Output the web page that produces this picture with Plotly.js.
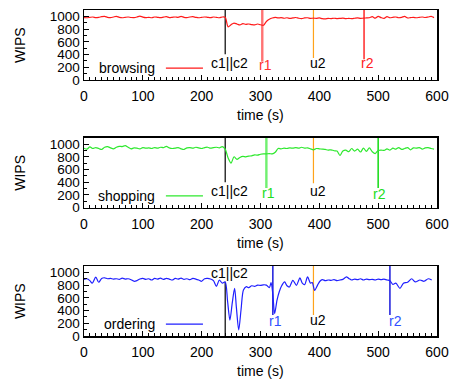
<!DOCTYPE html>
<html>
<head>
<meta charset="utf-8">
<script src="https://cdn.plot.ly/plotly-3.0.1.min.js"></script>
<style>html,body{margin:0;padding:0;background:#fff;}#chart{width:449px;height:381px;}</style>
</head>
<body>
<div id="chart"></div>
<script>
// ---------- data ----------
const t5 = [0,5,10,15,20,25,30,35,40,45,50,55,60,65,70,75,80,85,90,95,
  100,105,110,115,120,125,130,135,140,145,150,155,160,165,170,175,180,185,190,195,
  200,205,210,215,220,225,230,235,240,245,250,255,260,265,270,275,280,285,290,295,
  300,305,310,315,320,325,330,335,340,345,350,355,360,365,370,375,380,385,390,395,
  400,405,410,415,420,425,430,435,440,445,450,455,460,465,470,475,480,485,490,495,
  500,505,510,515,520,525,530,535,540,545,550,555,560,565,570,575,580,585,590,595];

const browsing = [980,978,985,990,980,985,995,1000,985,980,990,1000,985,978,985,990,982,980,990,1005,
  988,980,985,978,990,985,980,988,995,980,985,990,985,1000,985,980,990,995,985,978,
  985,990,985,980,990,985,978,990,985,835,870,895,880,865,885,875,880,870,865,880,
  868,860,920,955,975,985,975,980,970,978,968,975,982,970,965,975,978,968,972,968,
  975,965,962,968,965,970,965,968,972,965,968,965,970,975,968,972,975,978,995,972,
  1000,980,968,995,978,985,990,978,985,1000,975,980,985,978,985,990,982,990,1000,980];

const shopping = [935,920,955,930,945,930,915,950,960,940,925,950,965,960,975,950,925,940,935,925,
  945,935,940,930,945,935,950,945,965,940,930,935,945,925,915,940,945,935,950,940,
  930,945,950,935,945,950,940,960,920,780,700,800,760,790,805,800,810,815,830,825,
  840,845,845,850,845,870,930,925,935,930,940,935,945,935,950,935,940,925,910,930,
  925,920,915,905,910,895,890,820,890,905,880,930,890,920,875,935,885,940,880,850,
  900,905,900,925,905,935,920,945,915,930,945,910,940,935,945,920,940,945,930,920];

const tOrder = [0,5,10,14,20,25,30,35,40,45,50,55,60,65,70,75,80,85,90,95,
  100,105,110,115,120,125,130,135,140,145,150,155,160,165,170,175,180,185,190,195,
  200,205,210,215,220,225,230,235,240,244,248,252,256,259,263,267,271,276,280,285,
  290,295,300,305,310,315,318,321,324,328,332,336,341,345,349,355,361,367,371,375,
  380,385,388,392,397,401,405,410,415,420,425,430,435,440,446,450,455,460,465,470,
  475,480,485,490,495,500,505,510,515,520,525,530,537,543,550,557,563,571,578,585,591];
const ordering = [890,900,870,830,925,845,905,915,900,905,895,900,890,910,895,900,885,860,870,895,
  905,890,900,880,905,895,910,890,905,895,880,905,895,910,890,900,885,905,895,880,
  860,900,905,895,870,780,880,830,850,550,250,520,750,450,95,420,723,775,760,790,
  780,800,795,805,800,760,840,650,350,560,700,790,850,790,770,875,797,912,830,807,
  928,830,840,718,800,860,885,870,880,875,885,870,880,890,930,905,880,895,885,900,
  880,895,885,890,880,895,885,895,880,870,810,830,750,830,845,900,850,880,860,900,880];

const seriesNames = ['browsing', 'shopping', 'ordering'];
const eventNames = ['c1||c2', 'r1', 'u2', 'r2'];
// event times, line bottoms / tops, label positions per panel
const evTime   = [[240, 303, 390, 476], [240, 310, 390, 500], [240, 321, 390, 520]];
const evBottom = [[404, 288, 346, 325], [400, 310, 384, 310], [0, 330, 330, 330]];
const evTop    = [[1100, 1100, 1100, 1100], [1100, 1100, 1100, 1100], [854, 1100, 1100, 1100]];
const labX     = [[248, 308, 398, 482], [248, 313, 398, 503], [248, 326, 398, 529]];
const labY     = [[267, 236, 267, 267], [263, 226, 263, 215], [990, 240, 250, 240]];
const yTicks = [0, 200, 400, 600, 800, 1000];
const yMinor = [100, 300, 500, 700, 900];

// ---------- styling ----------
const FONT = 'Liberation Sans, Arial, Helvetica, sans-serif';
const seriesColor = ['#ff1a1a', '#2ee82e', '#1f1fff'];
const evLineColor = [
  ['#000000', '#ff7373', '#ffa31a', '#ff1a1a'],
  ['#000000', '#70f070', '#ffa31a', '#22dd22'],
  ['#000000', '#0a0ad8', '#ffa31a', '#0a0ad8']];
const evLineWidth = [[1.2, 2.4, 1.2, 1.4], [1.2, 2.4, 1.2, 1.6], [1.2, 1.4, 1.2, 1.4]];
const evLabColor = [
  ['#000000', '#ff3030', '#000000', '#ff2020'],
  ['#000000', '#22dd22', '#000000', '#22dd22'],
  ['#000000', '#3050ff', '#000000', '#3050ff']];
const domains = [[0.7853, 1], [0.3936, 0.6083], [0, 0.2147]];

const xs = [t5, t5, tOrder];
const ys = [browsing, shopping, ordering];

const traces = [];
const annotations = [];
const shapes = [];
const layout = {
  width: 449, height: 381,
  margin: {l: 84, r: 12, t: 10, b: 45},
  paper_bgcolor: '#ffffff', plot_bgcolor: '#ffffff',
  showlegend: false,
  font: {family: FONT, size: 14, color: '#000'},
};

for (let p = 0; p < 3; p++) {
  const sfx = p === 0 ? '' : String(p + 1);
  const xa = 'x' + sfx, ya = 'y' + sfx;
  // events
  for (let e = 0; e < 4; e++) {
    traces.push({
      x: [evTime[p][e], evTime[p][e]], y: [evBottom[p][e], evTop[p][e]],
      xaxis: xa, yaxis: ya, mode: 'lines', hoverinfo: 'skip',
      line: {color: evLineColor[p][e], width: evLineWidth[p][e]}
    });
    annotations.push({
      x: labX[p][e], y: labY[p][e], xref: xa, yref: ya, text: eventNames[e],
      showarrow: false, xanchor: 'center', yanchor: 'middle',
      font: {family: FONT, size: 14, color: evLabColor[p][e]}
    });
  }
  // series
  traces.push({
    x: xs[p], y: ys[p], xaxis: xa, yaxis: ya, mode: 'lines',
    line: {color: seriesColor[p], width: 1.2, shape: 'spline', smoothing: 0.8},
    name: seriesNames[p]
  });
  // legend (gnuplot style: text then sample)
  annotations.push({
    x: 0.207, y: 0.17, xref: xa + ' domain', yref: ya + ' domain', text: seriesNames[p],
    showarrow: false, xanchor: 'right', yanchor: 'middle',
    font: {family: FONT, size: 14, color: '#000'}
  });
  shapes.push({
    type: 'line', xref: xa + ' domain', yref: ya + ' domain',
    x0: 0.232, x1: 0.337, y0: 0.17, y1: 0.17,
    line: {color: seriesColor[p], width: 1.2}
  });
  // axis titles
  annotations.push({
    x: 0.5, y: -0.5, xref: xa + ' domain', yref: ya + ' domain', text: 'time (s)',
    showarrow: false, xanchor: 'center', yanchor: 'middle',
    font: {family: FONT, size: 14, color: '#000'}
  });
  annotations.push({
    x: -0.181, y: 0.5, xref: 'paper', yref: ya + ' domain', text: 'WIPS', textangle: -90,
    showarrow: false, xanchor: 'center', yanchor: 'middle',
    font: {family: FONT, size: 14, color: '#000'}
  });

  layout['xaxis' + sfx] = {
    domain: [0, 1], anchor: ya, range: [0, 600], dtick: 100, tick0: 0,
    ticks: 'inside', ticklen: 5, tickwidth: 1, tickcolor: '#000', ticklabelstandoff: 3,
    minor: {dtick: 10, ticks: 'inside', ticklen: 3, tickcolor: '#000', tickwidth: 1},
    showline: true, mirror: true, linecolor: '#000', linewidth: 1.5,
    showgrid: false, zeroline: false, fixedrange: true,
    tickfont: {family: FONT, size: 14, color: '#000'}
  };
  layout['yaxis' + sfx] = {
    domain: domains[p], anchor: xa, range: [0, 1100],
    tickvals: yTicks,
    ticks: 'inside', ticklen: 5, tickwidth: 1, tickcolor: '#000',
    minor: {tickvals: yMinor, ticks: 'inside', ticklen: 3, tickcolor: '#000', tickwidth: 1},
    showline: true, mirror: true, linecolor: '#000', linewidth: 1.5,
    showgrid: false, zeroline: false, fixedrange: true,
    tickfont: {family: FONT, size: 13.5, color: '#000'}
  };
}
layout.annotations = annotations;
layout.shapes = shapes;

Plotly.newPlot('chart', traces, layout, {displayModeBar: false, staticPlot: true});
</script>
</body>
</html>
